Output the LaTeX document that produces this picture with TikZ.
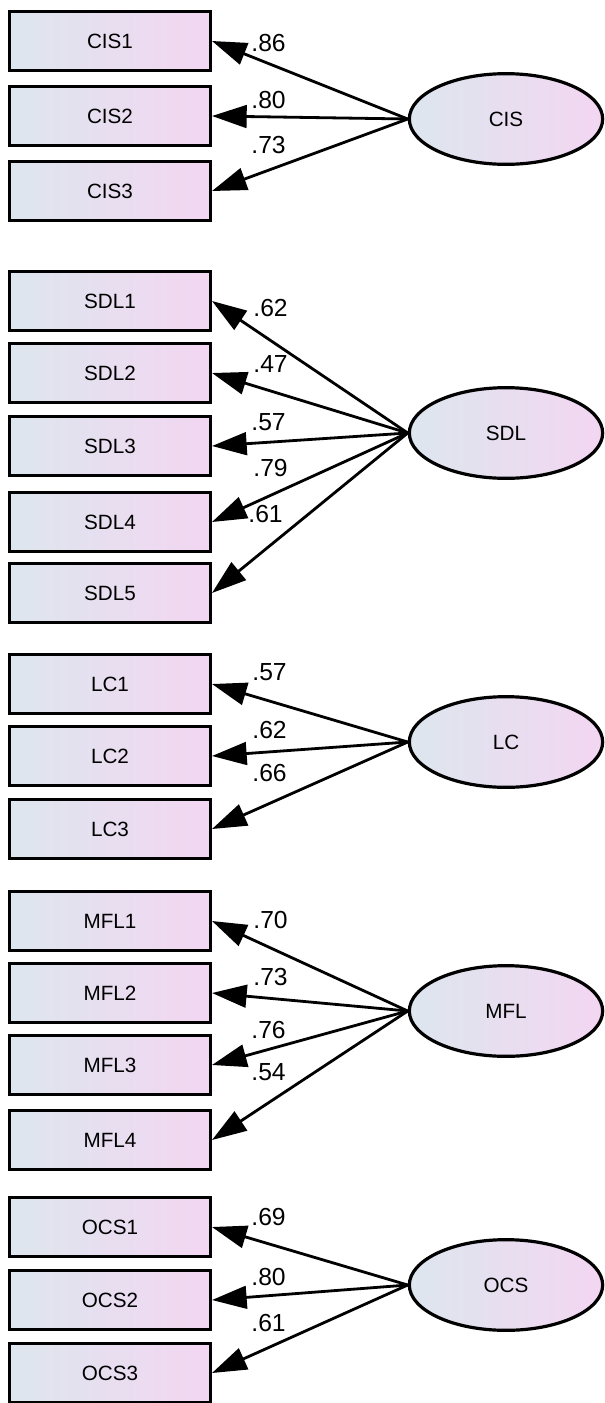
\documentclass[tikz,border=0pt]{standalone}
\usepackage{fontspec}
\setmainfont{Liberation Sans}
\usetikzlibrary{arrows.meta,shapes.geometric}

\definecolor{itemblue}{RGB}{221,230,238}
\definecolor{itempink}{RGB}{243,214,242}

\begin{document}
\begin{tikzpicture}[
            x = 0.75pt, y = -0.75pt, % pixel units, y runs downwards
            > = {Triangle[length=26pt,width=17pt]}, % arrow head style
            line width = 2.1pt, % line style
            item/.style = {shape=rectangle, draw=black, line width=2.5pt,
                minimum width=150.5pt, minimum height=44pt,
                left color=itemblue, right color=itempink,
                font=\fontsize{15.5}{18}\selectfont},
            factor/.style = {shape=ellipse, draw=black, line width=2.4pt,
                minimum width=145pt, minimum height=68pt, inner sep=0pt,
                left color=itemblue, right color=itempink,
                font=\fontsize{15.5}{18}\selectfont},
            load/.style = {anchor=west, inner sep=0pt,
                font=\fontsize{18.5}{20}\selectfont}
        ]

\useasboundingbox (0,0) rectangle (604,1403);

% CIS
\node[factor] (CIS) at (506,119) {CIS};
\node[item] (CIS1) at (110,41) {CIS1};
\node[item] (CIS2) at (110,116) {CIS2};
\node[item] (CIS3) at (110,191) {CIS3};

\path [->] (CIS.west) edge (CIS1.east);
\path [->] (CIS.west) edge (CIS2.east);
\path [->] (CIS.west) edge (CIS3.east);

\node[load] (w_CIS1) at (250,43) {.86};
\node[load] (w_CIS2) at (250,100) {.80};
\node[load] (w_CIS3) at (250,145) {.73};

% SDL
\node[factor] (SDL) at (506,433) {SDL};
\node[item] (SDL1) at (110,301) {SDL1};
\node[item] (SDL2) at (110,373) {SDL2};
\node[item] (SDL3) at (110,446) {SDL3};
\node[item] (SDL4) at (110,522) {SDL4};
\node[item] (SDL5) at (110,593) {SDL5};

\path [->] (SDL.west) edge (SDL1.east);
\path [->] (SDL.west) edge (SDL2.east);
\path [->] (SDL.west) edge (SDL3.east);
\path [->] (SDL.west) edge (SDL4.east);
\path [->] (SDL.west) edge (SDL5.east);

\node[load] (w_SDL1) at (252,308) {.62};
\node[load] (w_SDL2) at (252,364) {.47};
\node[load] (w_SDL3) at (250,422) {.57};
\node[load] (w_SDL4) at (252,468) {.79};
\node[load] (w_SDL5) at (247,514) {.61};

% LC
\node[factor] (LC) at (506,742) {LC};
\node[item] (LC1) at (110,684) {LC1};
\node[item] (LC2) at (110,756) {LC2};
\node[item] (LC3) at (110,829) {LC3};

\path [->] (LC.west) edge (LC1.east);
\path [->] (LC.west) edge (LC2.east);
\path [->] (LC.west) edge (LC3.east);

\node[load] (w_LC1) at (251,672) {.57};
\node[load] (w_LC2) at (251,730) {.62};
\node[load] (w_LC3) at (251,773) {.66};

% MFL
\node[factor] (MFL) at (506,1011) {MFL};
\node[item] (MFL1) at (110,921) {MFL1};
\node[item] (MFL2) at (110,993) {MFL2};
\node[item] (MFL3) at (110,1065) {MFL3};
\node[item] (MFL4) at (110,1140) {MFL4};

\path [->] (MFL.west) edge (MFL1.east);
\path [->] (MFL.west) edge (MFL2.east);
\path [->] (MFL.west) edge (MFL3.east);
\path [->] (MFL.west) edge (MFL4.east);

\node[load] (w_MFL1) at (252,920) {.70};
\node[load] (w_MFL2) at (252,977) {.73};
\node[load] (w_MFL3) at (250,1030) {.76};
\node[load] (w_MFL4) at (250,1072) {.54};

% OCS
\node[factor] (OCS) at (506,1285) {OCS};
\node[item] (OCS1) at (110,1227) {OCS1};
\node[item] (OCS2) at (110,1300) {OCS2};
\node[item] (OCS3) at (110,1373) {OCS3};

\path [->] (OCS.west) edge (OCS1.east);
\path [->] (OCS.west) edge (OCS2.east);
\path [->] (OCS.west) edge (OCS3.east);

\node[load] (w_OCS1) at (250,1217) {.69};
\node[load] (w_OCS2) at (250,1277) {.80};
\node[load] (w_OCS3) at (250,1323) {.61};
\end{tikzpicture}
\end{document}
